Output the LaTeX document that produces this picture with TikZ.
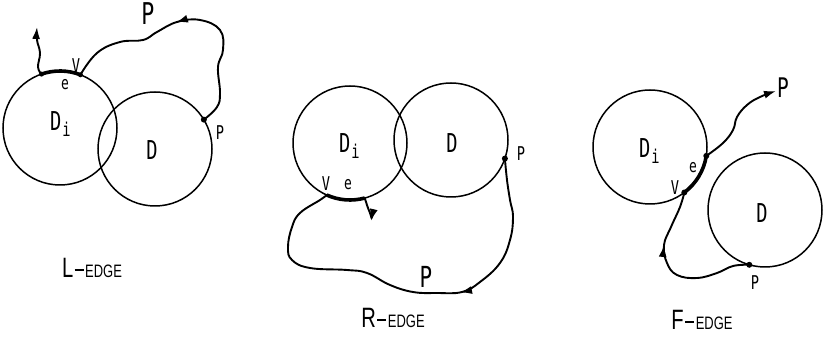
\documentclass[tikz,border=0pt]{standalone}
\usepackage{fontspec}
\newfontfamily\lf[FakeStretch=0.72]{DejaVu Sans Mono}
\newfontfamily\ef[FakeStretch=0.72]{Liberation Sans}
\usetikzlibrary{arrows.meta,decorations.markings}
\newcommand{\Dsub}{{\fontsize{26}{26}\selectfont D}\hspace{1pt}\raisebox{-6pt}{\fontsize{19}{19}\selectfont i}}
\newcommand{\Dbig}{\fontsize{26}{26}\selectfont D}
\newcommand{\edgelabel}[1]{{\fontsize{28}{28}\selectfont #1}\hspace{1.5pt}\rule[7pt]{9pt}{1.4pt}\hspace{1.5pt}{\fontsize{18}{18}\selectfont EDGE}}
\tikzset{
  disk/.style={circle, draw, line width=1.5pt, minimum size=114pt, inner sep=0pt, outer sep=0pt},
  wig/.style={line width=1.9pt, line cap=round, line join=round},
  thk/.style={line width=3.6pt},
  tipend/.style={-{Latex[length=12pt,width=8pt]}},
  dotmark/.style={circle, fill, inner sep=0pt, minimum size=6pt},
  lbl/.style={inner sep=0pt, font=\lf},
  dlbl/.style={inner sep=0pt, font=\lf, anchor=base west},
  midarrow/.style={postaction={decorate}, decoration={markings, mark=at position #1 with {\arrow{Latex[length=12pt,width=8pt]}}}},
}
\begin{document}
\begin{tikzpicture}[x=1pt,y=1pt]
\useasboundingbox (0,0) rectangle (828,337);
% ---------- L-EDGE ----------
\node[disk] (Di1) at (60,209) {};
\node[disk] (D1) at (155,188) {};
\node[dlbl] (lDi1) at (50,206) {\Dsub};
\node[lbl] (lD1) at (152,187) {\Dbig};
\node[lbl, font=\lf\fontsize{18}{18}\selectfont] (le1) at (65,252) {e};
\node[lbl, font=\lf\fontsize{19}{19}\selectfont] (lv1) at (76,271) {V};
\draw[thk] (Di1.109) arc[start angle=109, end angle=69, radius=57pt];
\node[dotmark, minimum size=5pt] (a1) at (Di1.109) {};
\node[dotmark, minimum size=5pt] (v1) at (Di1.69) {};
\node[dotmark] (p1) at (D1.31) {};
\coordinate (up1) at (37,310);
\draw[wig, tipend] plot[smooth, tension=0.7] coordinates {(Di1.109) (38,270) (40,284) (37,297) (up1)};
\draw[wig, midarrow=0.56] plot[smooth, tension=0.7] coordinates {(D1.31) (217,230) (220,244) (218,270) (223,287) (220,307) (200,317) (177,315) (157,305) (143,297) (120,295) (97,284) (Di1.69)};
\node[lbl, font=\lf\fontsize{30}{30}\selectfont] (P1) at (148,323) {P};
\node[lbl, font=\lf\fontsize{19}{19}\selectfont] (pp1) at (220,204) {P};
\node[inner sep=0pt, font=\ef] (t1) at (92,69) {\edgelabel{L}};
% ---------- R-EDGE ----------
\node[disk] (Di2) at (350,194) {};
\node[disk] (D2) at (451,197) {};
\node[dlbl] (lDi2) at (339,184) {\Dsub};
\node[lbl] (lD2) at (452,194) {\Dbig};
\node[lbl, font=\lf\fontsize{18}{18}\selectfont] (le2) at (348,152) {e};
\node[lbl, font=\lf\fontsize{19}{19}\selectfont] (lv2) at (326,153) {V};
\draw[thk] (Di2.246) arc[start angle=246, end angle=285, radius=57pt];
\node[dotmark] (p2) at (D2.341) {};
\coordinate (dn2) at (371,116);
\draw[wig, tipend] plot[smooth, tension=0.7] coordinates {(Di2.285) (368,129) (371,121) (dn2)};
\draw[wig, midarrow=0.38] plot[smooth, tension=0.7] coordinates {(D2.341) (507,157) (510,137) (513,120) (510,97) (500,74) (480,55) (462,45) (437,44) (413,45) (390,52) (367,64) (347,67) (310,69) (292,77) (288,90) (292,110) (300,124) (320,137) (Di2.246)};
\node[lbl, font=\lf\fontsize{29}{29}\selectfont] (P2) at (426,60) {P};
\node[lbl, font=\lf\fontsize{19}{19}\selectfont] (pp2) at (521,183) {P};
\node[inner sep=0pt, font=\ef] (t2) at (393,19) {\edgelabel{R}};
% ---------- F-EDGE ----------
\node[disk] (Di3) at (650,190) {};
\node[disk] (D3) at (765,127) {};
\node[dlbl] (lDi3) at (639,179) {\Dsub};
\node[lbl] (lD3) at (762,124) {\Dbig};
\node[lbl, font=\lf\fontsize{18}{18}\selectfont] (le3) at (693,169) {e};
\node[lbl, font=\lf\fontsize{19}{19}\selectfont] (lv3) at (675,149) {V};
\draw[thk] (Di3.351) arc[start angle=351, end angle=307, radius=57pt];
\node[dotmark] (e3) at (Di3.351) {};
\node[dotmark] (v3) at (Di3.307) {};
\node[dotmark] (p3) at (D3.254) {};
\coordinate (out3) at (776,246);
\draw[wig, tipend] plot[smooth, tension=0.7] coordinates {(Di3.351) (723,194) (733,207) (737,220) (747,232) (760,240) (out3)};
\draw[wig, midarrow=0.66] plot[smooth, tension=0.7] coordinates {(D3.254) (733,71) (717,64) (697,59) (677,62) (667,74) (664,92) (671,110) (680,130) (Di3.307)};
\node[lbl, font=\lf\fontsize{27}{27}\selectfont] (P3) at (783,249) {P};
\node[lbl, font=\lf\fontsize{19}{19}\selectfont] (pp3) at (755,54) {P};
\node[inner sep=0pt, font=\ef] (t3) at (702,17) {\edgelabel{F}};
\end{tikzpicture}
\end{document}
